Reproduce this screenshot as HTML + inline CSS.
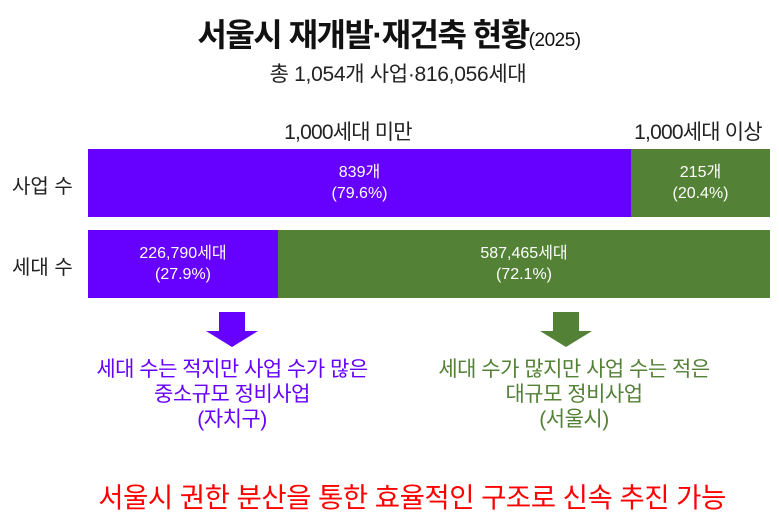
<!DOCTYPE html>
<html><head><meta charset="utf-8"><style>
body{margin:0;width:779px;height:525px;background:#fff;position:relative;overflow:hidden;font-family:"Liberation Sans","Noto Sans CJK KR",sans-serif;}
.a{position:absolute;white-space:nowrap;}
.c{transform:translateX(-50%);text-align:center;}
.bar{position:absolute;color:#fff;font-size:16px;line-height:21px;display:flex;align-items:center;justify-content:center;text-align:center;}
.p{background:#6600ff;} .g{background:#538135;}
</style></head><body>
<div class="a c" style="left:389px;top:10px;font-size:32px;font-weight:bold;letter-spacing:-1.5px;color:#111;">서울시 재개발·재건축 현황<span style="font-size:19px;font-weight:normal;letter-spacing:-0.5px">(2025)</span></div>
<div class="a c" style="left:398px;top:58px;font-size:21px;letter-spacing:-0.3px;color:#222;">총 1,054개 사업·816,056세대</div>
<div class="a c" style="left:348px;top:116px;font-size:21px;letter-spacing:-0.8px;color:#222;">1,000세대 미만</div>
<div class="a c" style="left:698px;top:116px;font-size:21px;letter-spacing:-0.8px;color:#222;">1,000세대 이상</div>
<div class="a" style="left:12px;top:170px;font-size:20px;color:#222;">사업 수</div>
<div class="a" style="left:12px;top:251px;font-size:20px;color:#222;">세대 수</div>
<div class="bar p" style="left:88px;top:149px;width:543px;height:68px;">839개<br>(79.6%)</div>
<div class="bar g" style="left:631px;top:149px;width:139px;height:68px;">215개<br>(20.4%)</div>
<div class="bar p" style="left:88px;top:230px;width:190px;height:68px;">226,790세대<br>(27.9%)</div>
<div class="bar g" style="left:278px;top:230px;width:492px;height:68px;">587,465세대<br>(72.1%)</div>
<svg class="a" style="left:0;top:0" width="779" height="525">
<polygon points="219,312 245,312 245,331 258,331 232,347 206,331 219,331" fill="#6600ff"/>
<polygon points="553,312 579,312 579,331 592,331 566,347 540,331 553,331" fill="#538135"/>
</svg>
<div class="a c" style="left:232px;top:357px;font-size:21px;line-height:25px;color:#6600ff;letter-spacing:-0.5px;">세대 수는 적지만 사업 수가 많은<br>중소규모 정비사업<br>(자치구)</div>
<div class="a c" style="left:574px;top:357px;font-size:21px;line-height:25px;color:#538135;letter-spacing:-0.5px;">세대 수가 많지만 사업 수는 적은<br>대규모 정비사업<br>(서울시)</div>
<div class="a c" style="left:412px;top:475px;font-size:27.5px;color:#ff0000;letter-spacing:-0.5px;">서울시 권한 분산을 통한 효율적인 구조로 신속 추진 가능</div>
</body></html>
